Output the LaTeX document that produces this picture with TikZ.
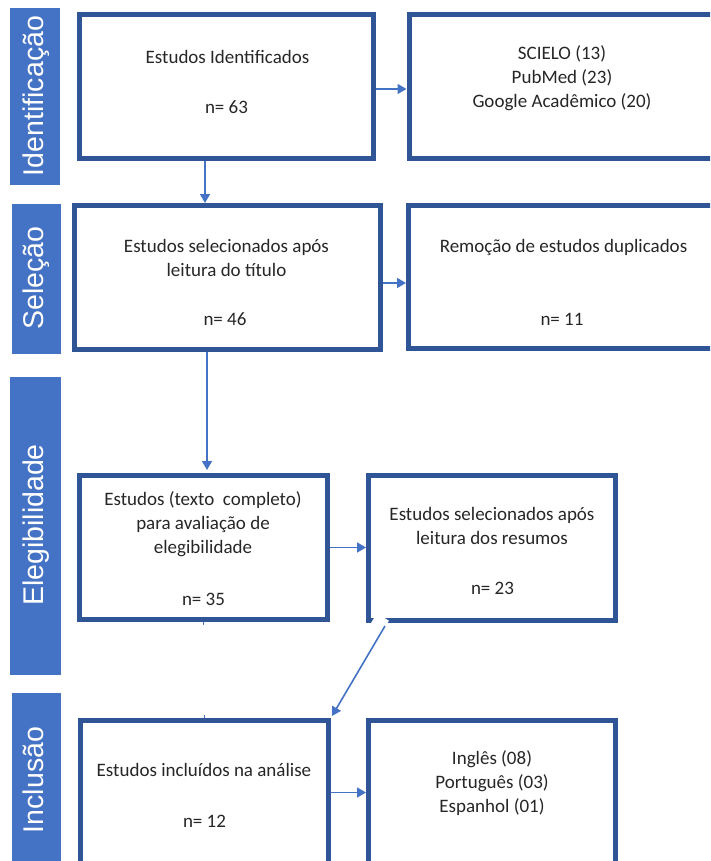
\documentclass[tikz,border=0pt]{standalone}
\usepackage{fontspec}
\setmainfont{Carlito}
\newfontfamily\arialf{Liberation Sans}
\usetikzlibrary{arrows.meta}
\definecolor{barblue}{HTML}{4472C4}
\definecolor{boxblue}{HTML}{2F5597}
\definecolor{txtc}{HTML}{262626}
\begin{document}
\begin{tikzpicture}[x=1pt,y=-1pt,
  box/.style={draw=boxblue,line width=5pt,inner sep=0pt},
  phase/.style={fill=barblue,draw=none,inner sep=0pt,outer sep=0pt},
  phaselabel/.style={text=white,font=\arialf\fontsize{28.5}{30}\selectfont,rotate=90,anchor=base,inner sep=0pt},
  txt/.style={text=txtc,font=\fontsize{19}{24}\selectfont,align=center,inner sep=0pt},
  arr/.style={draw=barblue,line width=1.6pt,-{Triangle[length=9pt,width=10pt]}},
  stub/.style={draw=barblue,line width=1.5pt}]
\useasboundingbox (0,0) rectangle (710,861);
\clip (0,0) rectangle (710,861);
% phase bars
\node[phase,minimum width=50pt,minimum height=177pt] (p1) at (35,96.5) {};
\node[phase,minimum width=49pt,minimum height=150pt] (p2) at (36.5,279) {};
\node[phase,minimum width=51pt,minimum height=298pt] (p3) at (35.5,526) {};
\node[phase,minimum width=49pt,minimum height=177pt] (p4) at (36.5,781.5) {};
\node[phaselabel] (l1) at (43,96) {Identificação};
\node[phaselabel] (l2) at (43.5,278) {Seleção};
\node[phaselabel] (l3) at (43,525) {Elegibilidade};
\node[phaselabel] (l4) at (43,780) {Inclusão};
% boxes
\node[box,minimum width=294pt,minimum height=144pt] (b1) at (226.5,86.5) {};
\node[box,minimum width=306pt,minimum height=144pt] (b2) at (562,86.5) {};
\node[box,minimum width=306pt,minimum height=144pt] (b3) at (227.5,277.5) {};
\node[box,minimum width=307pt,minimum height=143pt] (b4) at (562,277) {};
\node[box,minimum width=248pt,minimum height=144pt] (b5) at (203.5,547.5) {};
\node[box,minimum width=247pt,minimum height=145pt] (b6) at (492,548) {};
\node[box,minimum width=248pt,minimum height=144pt] (b7) at (204.5,792.5) {};
\node[box,minimum width=247pt,minimum height=144pt] (b8) at (492,792.5) {};
% texts
\node[txt] (t1a) at (227.5,57) {Estudos Identificados};
\node[txt] (t1b) at (226.5,107) {n= 63};
\node[txt] (t2) at (562,78) {SCIELO (13)\\PubMed (23)\\Google Acadêmico (20)};
\node[txt] (t3a) at (226.5,258) {Estudos selecionados após\\leitura do título};
\node[txt] (t3b) at (225,319) {n= 46};
\node[txt] (t4a) at (563.5,247) {Remoção de estudos duplicados};
\node[txt] (t4b) at (562,319) {n= 11};
\node[txt] (t5a) at (203,524) {Estudos (texto\ \ completo)\\para avaliação de\\elegibilidade};
\node[txt] (t5b) at (203.5,599) {n= 35};
\node[txt] (t6a) at (492,526) {Estudos selecionados após\\leitura dos resumos};
\node[txt] (t6b) at (492.5,588) {n= 23};
\node[txt] (t7a) at (204,770) {Estudos incluídos na análise};
\node[txt] (t7b) at (204.5,821) {n= 12};
\node[txt] (t8) at (492,783) {Inglês (08)\\Português (03)\\Espanhol (01)};
% white glow behind diagonal
\coordinate (g1) at (383,617);
\coordinate (g2) at (326,708);
\draw[white,line width=14pt] (g1) -- (g2);
% connectors
\draw[arr] ([yshift=-2.5pt]b1.east) -- ([yshift=-2.5pt]b2.west);
\draw[arr] ([xshift=-21.5pt]b1.south) -- ([xshift=-21.5pt]b1.south |- b3.north);
\draw[arr] ([yshift=-5.5pt]b3.east) -- ([yshift=-5.5pt]b3.east -| b4.west);
\draw[arr] ([xshift=-20.5pt]b3.south) -- ([xshift=-20.5pt,yshift=3pt]b3.south |- b5.north);
\draw[arr] (b5.east) -- (b5.east -| b6.west);
\draw[arr] ([xshift=19pt,yshift=-3pt]b6.south west) -- ([xshift=1pt,yshift=2pt]b7.north east);
\draw[arr] (b7.east) -- (b7.east -| b8.west);
\draw[stub] (b5.south) -- ++(0,3);
\draw[stub] (b7.north) -- ++(0,-3);
\end{tikzpicture}
\end{document}
